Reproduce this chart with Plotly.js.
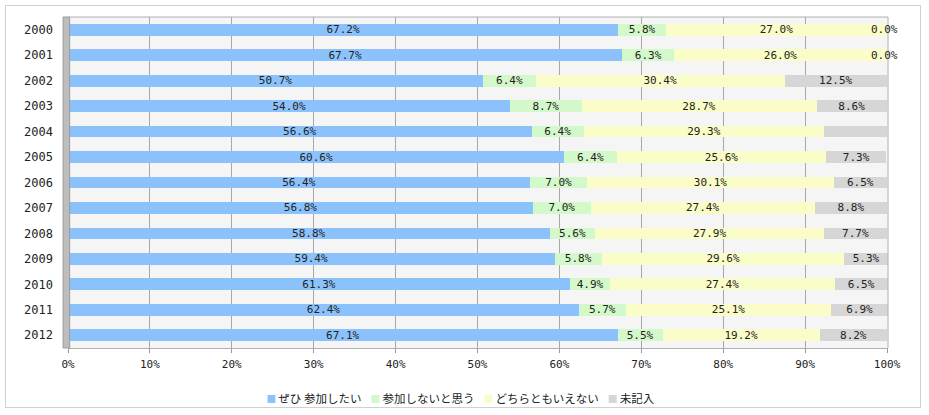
<!DOCTYPE html>
<html><head><meta charset="utf-8">
<script src="https://cdn.plot.ly/plotly-3.0.1.min.js"></script>
<style>
html,body{margin:0;padding:0;background:#fff;}
#frame{position:absolute;left:5px;top:5px;width:916px;height:403px;border:1px solid #d0d0d0;box-sizing:border-box;}
#chart{position:absolute;left:0;top:0;width:929px;height:415px;}
</style></head>
<body>
<div id="frame"></div>
<div id="chart"></div>
<script>
const years = ['2000','2001','2002','2003','2004','2005','2006','2007','2008','2009','2010','2011','2012'];
const zehi = [67.2,67.7,50.7,54.0,56.6,60.6,56.4,56.8,58.8,59.4,61.3,62.4,67.1];
const sankaNai = [5.8,6.3,6.4,8.7,6.4,6.4,7.0,7.0,5.6,5.8,4.9,5.7,5.5];
const dochira = [27.0,26.0,30.4,28.7,29.3,25.6,30.1,27.4,27.9,29.6,27.4,25.1,19.2];
const mikinyu = [0.0,0.0,12.5,8.6,7.7,7.3,6.5,8.8,7.7,5.3,6.5,6.9,8.2];
const mikinyuShown = [true,true,true,true,false,true,true,true,true,true,true,true,true];
const seriesNames = ['ぜひ 参加したい','参加しないと思う','どちらともいえない','未記入'];
const xTicks = [0,10,20,30,40,50,60,70,80,90,100];
const xTickLabels = xTicks.map(v => v + '%');

const colors = ['#8cc2fb','#d3f8c9','#fbfdc8','#d6d6d6'];
const lblFont = {family:'"DejaVu Sans Mono", monospace', size:11, color:'#222'};
const fmt = v => v.toFixed(1) + '%';

function barTrace(vals, i, shown){
  return {
    type:'bar', orientation:'h', y:years, x:vals, name:seriesNames[i],
    marker:{color:colors[i], line:{width:0}},
    width:0.46,
    text: vals.map((v,k) => (v > 0 && (!shown || shown[k])) ? fmt(v) : ''),
    textposition:'inside', insidetextanchor:'middle', textangle:0,
    constraintext:'none', textfont:lblFont, cliponaxis:false,
    hoverinfo:'skip'
  };
}
const data = [
  barTrace(zehi,0), barTrace(sankaNai,1), barTrace(dochira,2), barTrace(mikinyu,3,mikinyuShown)
];

// labels for zero-valued segments placed at end of stacked bar (y given as category index)
const annotations = [];
mikinyu.forEach((v,k) => {
  if (v === 0) {
    const total = zehi[k] + sankaNai[k] + dochira[k] + mikinyu[k];
    annotations.push({x:total, y:k, xref:'x', yref:'y', text:fmt(v), showarrow:false,
      xanchor:'center', xshift:-3, font:lblFont});
  }
});

const layout = {
  width:929, height:415,
  margin:{l:68, r:41, t:17, b:67, autoexpand:false},
  paper_bgcolor:'rgba(0,0,0,0)', plot_bgcolor:'#f5f5f5',
  barmode:'stack', bargap:0.54,
  showlegend:true,
  legend:{orientation:'h', x:0.49, xanchor:'center', y:-0.154, yanchor:'middle',
    font:{family:'"Noto Sans CJK JP", sans-serif', size:11.5, color:'#222'},
    traceorder:'normal', itemwidth:30, bgcolor:'rgba(0,0,0,0)'},
  xaxis:{range:[0,100.12], tickvals:xTicks, ticktext:xTickLabels, showgrid:true,
    gridcolor:'#a8a8a8', gridwidth:1, zeroline:false, showline:true, linecolor:'#b0b0b0',
    ticks:'outside', ticklen:4, tickcolor:'#999', ticklabelstandoff:2,
    tickfont:{family:'"DejaVu Sans Mono", monospace', size:11, color:'#222'}, fixedrange:true},
  yaxis:{type:'category', categoryorder:'array', categoryarray:years, range:[12.5,-0.5],
    showgrid:false, zeroline:false, showline:false, ticks:'', ticklen:0, ticklabelstandoff:14,
    tickfont:{family:'"DejaVu Sans Mono", monospace', size:12, color:'#222'}, fixedrange:true},
  shapes:[
    {type:'rect', xref:'paper', yref:'paper', x0:-0.006, x1:0.002, y0:0, y1:1,
     fillcolor:'#bdbdbd', line:{width:1, color:'#9a9a9a'}, layer:'above'},
    {type:'line', xref:'paper', yref:'paper', x0:1, x1:1, y0:0, y1:1, line:{width:1, color:'#b0b0b0'}},
    {type:'line', xref:'paper', yref:'paper', x0:0, x1:1, y0:1, y1:1, line:{width:1, color:'#b0b0b0'}}
  ],
  annotations: annotations
};
Plotly.newPlot('chart', data, layout, {displayModeBar:false, staticPlot:true}).then(gd => {
  try {
    const leg = gd.querySelector('g.legend');
    if (!leg) return;
    const items = Array.from(leg.querySelectorAll('g.traces'));
    let cur = 0;
    items.forEach(t => {
      t.querySelectorAll('.legendpoints path').forEach(p => p.setAttribute('d','M4,4H-4V-4H4Z'));
      const txt = t.querySelector('text.legendtext');
      txt.setAttribute('x', 27);
      txt.querySelectorAll('tspan[x]').forEach(s => s.setAttribute('x', 27));
      const tr = t.getAttribute('transform') || '';
      const m = tr.match(/translate\(\s*([-\d.]+)[ ,]+([-\d.]+)\s*\)/);
      const ty = m ? parseFloat(m[2]) : 0;
      t.setAttribute('transform', `translate(${cur - 16},${ty})`);
      cur += 11 + txt.getComputedTextLength() + 10;
    });
    // centre the legend at the reference position
    const first = items[0].querySelector('.legendpoints path').getBoundingClientRect();
    const lastTxt = items[items.length-1].querySelector('text.legendtext').getBoundingClientRect();
    const center = (first.left + lastTxt.right) / 2;
    const target = 461;
    const ltr = leg.getAttribute('transform') || '';
    const lm = ltr.match(/translate\(\s*([-\d.]+)[ ,]+([-\d.]+)\s*\)/);
    if (lm) leg.setAttribute('transform', `translate(${parseFloat(lm[1]) + target - center},${lm[2]})`);
  } catch (e) { console.error(e); }
});
</script>
</body></html>
